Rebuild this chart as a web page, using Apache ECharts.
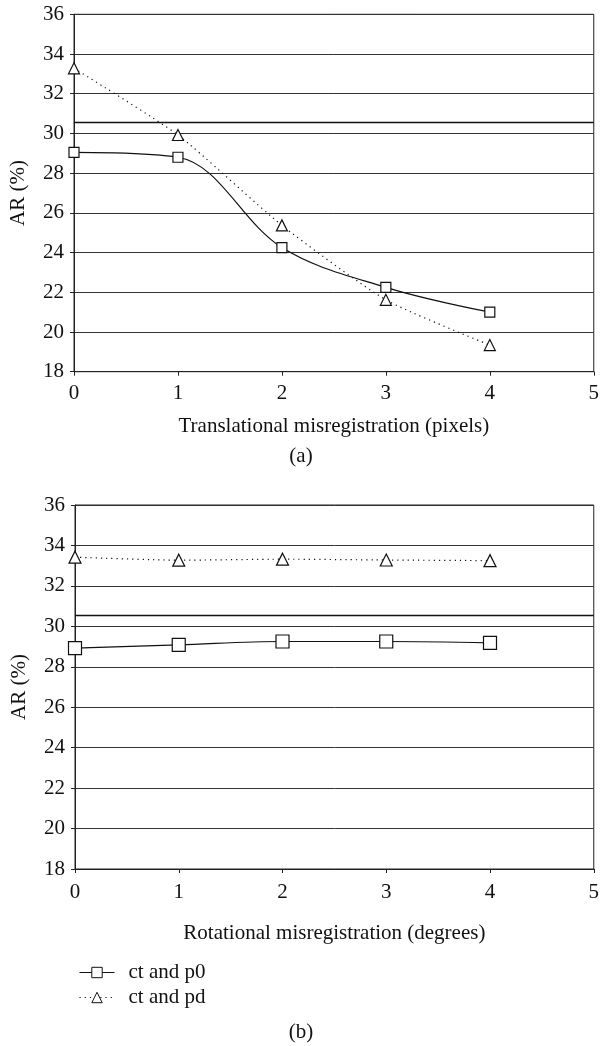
<!DOCTYPE html>
<html>
<head>
<meta charset="utf-8">
<script src="https://cdn.jsdelivr.net/npm/echarts@6/dist/echarts.min.js"></script>
<style>
  html, body { margin: 0; padding: 0; background: #fff; }
  #chart { width: 602px; height: 1046px; }
</style>
</head>
<body>
<div id="chart"></div>
<script>
// x positions (misregistration steps)
const steps = [0, 1, 2, 3, 4]
const xTicks = [0, 1, 2, 3, 4, 5]
const yTicks = [18, 20, 22, 24, 26, 28, 30, 32, 34, 36]

// (a) translational misregistration
const transP0 = [29.05, 28.8, 24.25, 22.25, 21.0]
const transPd = [33.28, 29.92, 25.37, 21.62, 19.34]

// (b) rotational misregistration
const rotP0 = [28.92, 29.08, 29.25, 29.25, 29.18]
const rotPd = [33.42, 33.27, 33.32, 33.28, 33.25]

// reference level drawn across both plots
const refLevel = 30.55

const seriesNames = ['ct and p0', 'ct and pd']
const fontFam = 'Liberation Serif'
const fontSize = 21

const chart = echarts.init(document.getElementById('chart'))

function pairs(values) {
    return steps.map(function (x, i) { return [x, values[i]] })
}

function xAxisFor(gridIndex, name, margin, gap) {
    return {
        type: 'value', gridIndex: gridIndex,
        min: xTicks[0], max: xTicks[xTicks.length - 1], interval: 1,
        name: name, nameLocation: 'middle', nameGap: gap,
        nameTextStyle: { fontFamily: fontFam, fontSize: fontSize, color: '#111' },
        axisLine: { show: true, lineStyle: { color: '#222', width: 1 } },
        axisTick: { show: true, length: 4, lineStyle: { color: '#222' } },
        axisLabel: { fontFamily: fontFam, fontSize: fontSize, color: '#111', margin: margin },
        splitLine: { show: false }
    }
}

function yAxisFor(gridIndex) {
    return {
        type: 'value', gridIndex: gridIndex,
        min: yTicks[0], max: yTicks[yTicks.length - 1], interval: 2,
        name: 'AR (%)', nameLocation: 'middle', nameGap: 45, nameRotate: 90,
        nameTextStyle: { fontFamily: fontFam, fontSize: fontSize, color: '#111' },
        axisLine: { show: true, lineStyle: { color: '#222', width: 1 } },
        axisTick: { show: true, length: 4, lineStyle: { color: '#222' } },
        axisLabel: { fontFamily: fontFam, fontSize: fontSize, color: '#111', margin: 10 },
        splitLine: { show: true, lineStyle: { color: '#333', width: 1 } }
    }
}

function p0Series(idx, values, size) {
    return {
        name: seriesNames[0], type: 'line',
        xAxisIndex: idx, yAxisIndex: idx,
        data: pairs(values), smooth: 0.35,
        symbol: 'rect', symbolSize: size,
        lineStyle: { color: '#111', width: 1.2 },
        itemStyle: { color: '#fff', borderColor: '#111', borderWidth: 1.2 },
        markLine: {
            silent: true, symbol: 'none', label: { show: false },
            lineStyle: { color: '#111', width: 1.4, type: 'solid' },
            data: [{ yAxis: refLevel }]
        },
        z: 3
    }
}

function pdSeries(idx, values, size) {
    return {
        name: seriesNames[1], type: 'line',
        xAxisIndex: idx, yAxisIndex: idx,
        data: pairs(values), smooth: 0.2,
        symbol: 'triangle', symbolSize: size,
        lineStyle: { color: '#111', width: 1.2, type: [1.2, 4] },
        itemStyle: { color: '#fff', borderColor: '#111', borderWidth: 1.2 },
        z: 3
    }
}

chart.setOption({
    backgroundColor: '#fff',
    animation: false,
    grid: [
        { left: 72.5, top: 14.3, width: 522.5, height: 357.4,
          show: true, borderColor: '#222', borderWidth: 1 },
        { left: 75, top: 505, width: 523, height: 364,
          show: true, borderColor: '#222', borderWidth: 1 }
    ],
    xAxis: [
        xAxisFor(0, 'Translational misregistration (pixels)', 11, 44),
        xAxisFor(1, 'Rotational misregistration (degrees)', 13, 54)
    ],
    yAxis: [yAxisFor(0), yAxisFor(1)],
    legend: {
        data: seriesNames,
        orient: 'vertical',
        left: 74, top: 957,
        itemWidth: 35, itemHeight: 13, itemGap: 4,
        lineStyle: { width: 1 },
        itemStyle: { borderWidth: 1 },
        textStyle: { fontFamily: fontFam, fontSize: fontSize, color: '#111', padding: [0, 0, 0, 9] }
    },
    graphic: [
        { type: 'text', left: 'center', top: 446,
          style: { text: '(a)', font: fontSize + 'px "' + fontFam + '"', fill: '#111' } },
        { type: 'text', left: 'center', top: 1022,
          style: { text: '(b)', font: fontSize + 'px "' + fontFam + '"', fill: '#111' } }
    ],
    series: [
        p0Series(0, transP0, 10),
        pdSeries(0, transPd, 11),
        p0Series(1, rotP0, 13),
        pdSeries(1, rotPd, 12)
    ]
})
</script>
</body>
</html>
